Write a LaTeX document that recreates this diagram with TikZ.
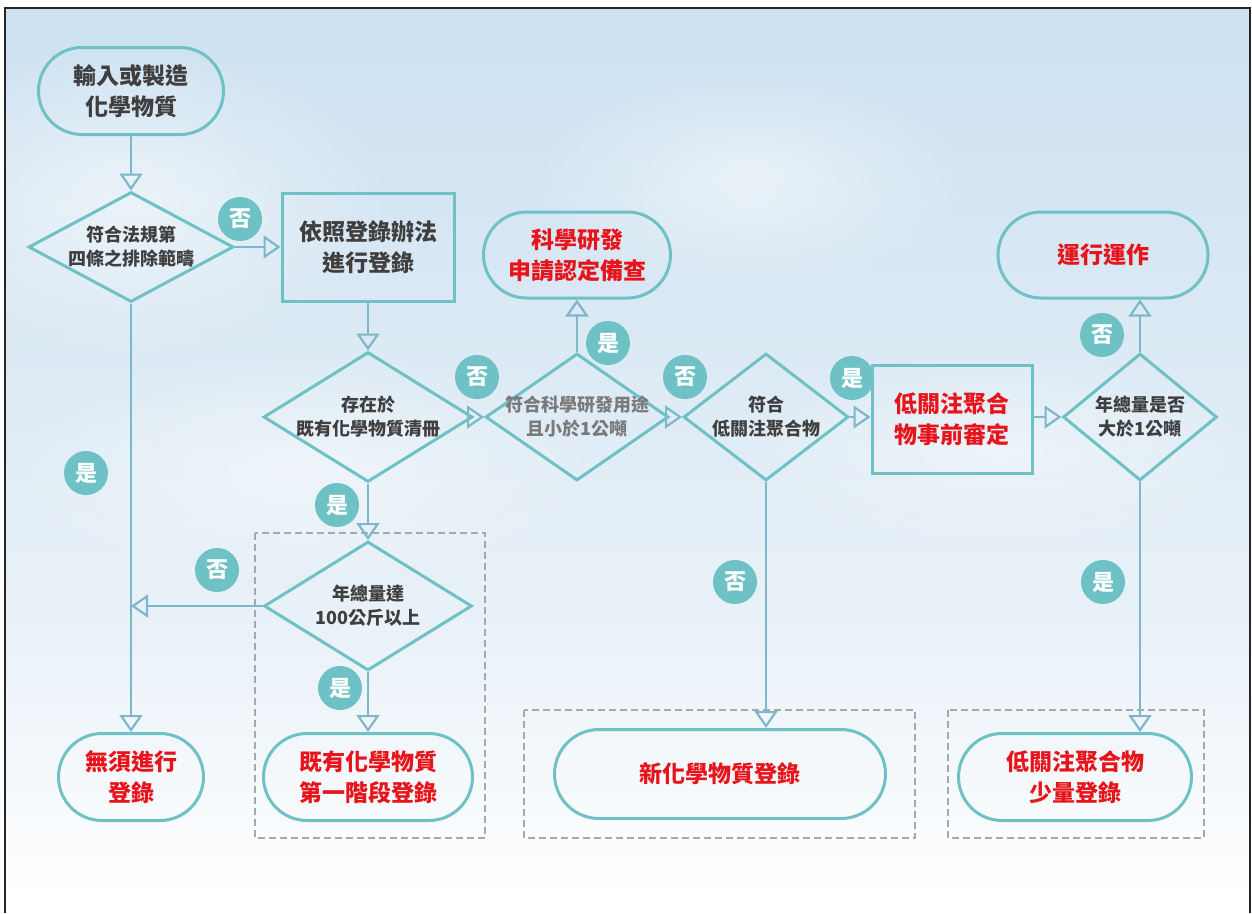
\documentclass[tikz,border=0pt]{standalone}
\usepackage{fontspec}
\newfontfamily\cjk{Noto Sans CJK TC}
\usetikzlibrary{shapes.geometric,shapes.misc,arrows.meta,fadings}
\definecolor{tealA}{HTML}{6EC1C4}
\definecolor{lineC}{HTML}{7DB8CA}
\definecolor{txtD}{HTML}{3F3F3F}
\definecolor{txtG}{HTML}{7A7A7A}
\definecolor{redA}{HTML}{E8141B}
\definecolor{dashG}{HTML}{A8A8A8}
\definecolor{skyA}{HTML}{C0D9EE}
\definecolor{skyB}{HTML}{D2E4F2}
\definecolor{skyC}{HTML}{EAF2F8}
\pgfdeclareverticalshading{sky}{100bp}{color(0bp)=(white); color(25.7bp)=(white); color(40bp)=(skyC); color(67.7bp)=(skyB); color(100bp)=(skyA)}
\tikzfading[name=cloudfade, inner color=transparent!0, outer color=transparent!100]
\newcommand\fbig{\cjk\bfseries\fontsize{23}{31}\selectfont}
\newcommand\fsmall{\cjk\bfseries\fontsize{18}{24}\selectfont}
\newcommand\fbadge{\cjk\bfseries\fontsize{22}{22}\selectfont}
\tikzset{
  term/.style={rounded rectangle, draw=tealA, line width=3pt, inner sep=0pt, align=center, font=\fbig},
  boxn/.style={rectangle, draw=tealA, line width=3pt, inner sep=0pt, align=center, font=\fbig},
  dec/.style={diamond, draw=tealA, line width=3pt, inner sep=0pt},
  dtext/.style={align=center, font=\fsmall, text=txtD, inner sep=0pt},
  badge/.style={circle, fill=tealA, text=white, minimum size=44pt, inner sep=0pt, font=\fbadge},
  flow/.style={draw=lineC, line width=2.8pt, -{Triangle[open, length=17pt, width=23pt, line width=2.2pt]}},
  dbox/.style={draw=dashG, line width=2pt, dash pattern=on 7pt off 4pt},
}
\begin{document}
\begin{tikzpicture}[x=1pt, y=-1pt]
\useasboundingbox (0,0) rectangle (1252,913);
% background
\shade[shading=sky] (5,8) rectangle (1250,913);
\begin{scope}
\clip (5,8) rectangle (1250,913);
\fill[white, opacity=0.55, path fading=cloudfade] (130,200) ellipse (260pt and 160pt);
\fill[white, opacity=0.5, path fading=cloudfade] (750,180) ellipse (220pt and 110pt);
\fill[white, opacity=0.45, path fading=cloudfade] (300,470) ellipse (300pt and 120pt);
\fill[white, opacity=0.4, path fading=cloudfade] (1000,450) ellipse (260pt and 100pt);
\end{scope}
\draw[line width=2pt, black!85] (5,913) -- (5,8) -- (1250,8) -- (1250,913);

% dashed groups
\draw[dbox] (255,533) rectangle (485,838);
\draw[dbox] (524,710) rectangle (915,838);
\draw[dbox] (948,710) rectangle (1204,838);

% nodes
\node[term, minimum width=185pt, minimum height=87pt, text=txtD] (n1) at (131,91) {輸入或製造\\化學物質};
\node[dec, minimum width=205pt, minimum height=110pt] (d1) at (131,247) {};
\node[dtext] (d1t) at (d1.center) {符合法規第\\四條之排除範疇};
\node[boxn, minimum width=172pt, minimum height=108pt, text=txtD] (b1) at (368,247) {依照登錄辦法\\進行登錄};
\node[dec, minimum width=209pt, minimum height=130pt] (d2) at (368,417) {};
\node[dtext] (d2t) at (d2.center) {存在於\\既有化學物質清冊};
\node[term, minimum width=187pt, minimum height=86pt, text=redA] (sci) at (577,255) {科學研發\\申請認定備查};
\node[dec, minimum width=183pt, minimum height=127pt] (d3) at (577,417) {};
\node[dtext, text=txtG] (d3t) at (d3.center) {符合科學研發用途\\且小於1公噸};
\node[dec, minimum width=165pt, minimum height=127pt] (d4) at (766,417) {};
\node[dtext] (d4t) at (d4.center) {符合\\低關注聚合物};
\node[boxn, minimum width=160pt, minimum height=108pt, text=redA] (b2) at (952,419) {低關注聚合\\物事前審定};
\node[dec, minimum width=154pt, minimum height=127pt] (d5) at (1140,417) {};
\node[dtext] (d5t) at (d5.center) {年總量是否\\大於1公噸};
\node[term, minimum width=210pt, minimum height=86pt, text=redA] (run) at (1103,255) {運行運作};
\node[dec, minimum width=208pt, minimum height=129pt] (d6) at (368,606) {};
\node[dtext] (d6t) at (d6.center) {年總量達\\100公斤以上};
\node[term, minimum width=145pt, minimum height=87pt, text=redA] (nreg) at (131,777) {無須進行\\登錄};
\node[term, minimum width=209pt, minimum height=87pt, text=redA] (exist) at (368,777) {既有化學物質\\第一階段登錄};
\node[term, minimum width=331pt, minimum height=89pt, text=redA] (newr) at (720,774) {新化學物質登錄};
\node[term, minimum width=233pt, minimum height=87pt, text=redA] (low) at (1075,777) {低關注聚合物\\少量登錄};

% connectors
\draw[flow] (n1.south) -- (d1.north);
\draw[flow] (d1.east) -- (b1.west);
\draw[flow] (b1.south) -- (d2.north);
\draw[flow] (d2.east) -- (d3.west);
\draw[flow] (d3.north) -- (sci.south);
\draw[flow] (d3.east) -- (d4.west);
\draw[flow] (d4.east) -- (d4.east -| b2.west);
\draw[flow] (b2.east |- d5.west) -- (d5.west);
\draw[flow] (d5.north) -- (d5.north |- run.south);
\draw[flow] (d5.south) -- (d5.south |- low.north);
\draw[flow] (d4.south) -- (d4.south |- newr.north);
\draw[flow] (d2.south) -- (d6.north);
\draw[flow] (d6.south) -- (exist.north);
\draw[flow] (d1.south) -- (nreg.north);
\draw[flow] (d6.west) -- (d6.west -| d1.south);

% badges
\node[badge] (c1) at (240,219) {否};
\node[badge] (c2) at (477,377) {否};
\node[badge] (c3) at (608,343) {是};
\node[badge] (c4) at (685,377) {否};
\node[badge] (c5) at (852,378) {是};
\node[badge] (c6) at (1102,335) {否};
\node[badge] (c7) at (86,473) {是};
\node[badge] (c8) at (337,505) {是};
\node[badge] (c9) at (217,570) {否};
\node[badge] (c10) at (340,688) {是};
\node[badge] (c11) at (735,582) {否};
\node[badge] (c12) at (1103,582) {是};
\end{tikzpicture}
\end{document}
